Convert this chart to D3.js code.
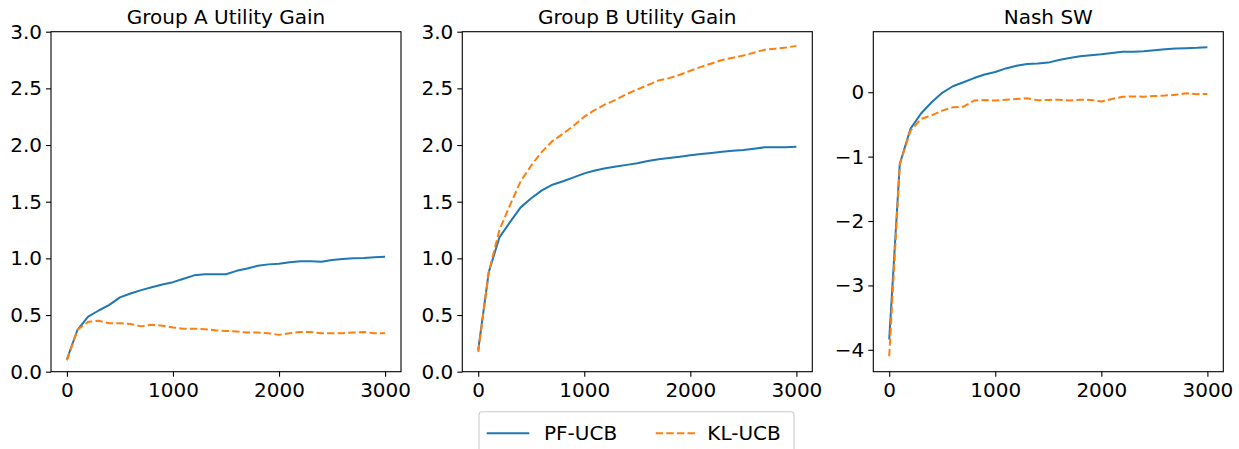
<!DOCTYPE html>
<html>
<head>
<meta charset="utf-8">
<script src="https://cdn.jsdelivr.net/npm/d3@7"></script>
<style>
  body { margin: 0; background: #fff; }
  svg text { font-family: "DejaVu Sans", sans-serif; fill: #000; }
</style>
</head>
<body>
<svg id="svg"></svg>
<script>
// steps (x values)
let steps = [0, 100, 200, 300, 400, 500, 600, 700, 800, 900, 1000, 1100, 1200, 1300, 1400, 1500,
  1600, 1700, 1800, 1900, 2000, 2100, 2200, 2300, 2400, 2500, 2600, 2700, 2800, 2900, 3000]

// Group A utility gain
let groupA_pf = [0.11, 0.37, 0.485, 0.54, 0.59, 0.656, 0.69, 0.72, 0.745, 0.77, 0.79, 0.82, 0.85, 0.86, 0.86, 0.86,
  0.89, 0.91, 0.935, 0.947, 0.953, 0.965, 0.975, 0.975, 0.97, 0.985, 0.994, 1.0, 1.003, 1.009, 1.015]
let groupA_kl = [0.10, 0.37, 0.44, 0.45, 0.427, 0.427, 0.42, 0.40, 0.415, 0.405, 0.39, 0.38, 0.38, 0.375, 0.365, 0.36,
  0.355, 0.345, 0.345, 0.34, 0.325, 0.34, 0.35, 0.35, 0.34, 0.34, 0.34, 0.345, 0.35, 0.34, 0.34]

// Group B utility gain
let groupB_pf = [0.19, 0.88, 1.185, 1.32, 1.45, 1.53, 1.60, 1.65, 1.68, 1.715, 1.75, 1.775, 1.795, 1.81, 1.825, 1.84,
  1.86, 1.875, 1.885, 1.897, 1.91, 1.92, 1.93, 1.94, 1.95, 1.956, 1.967, 1.98, 1.98, 1.98, 1.985]
let groupB_kl = [0.175, 0.88, 1.25, 1.47, 1.68, 1.82, 1.94, 2.035, 2.10, 2.17, 2.25, 2.31, 2.36, 2.40, 2.45, 2.49,
  2.53, 2.57, 2.59, 2.62, 2.655, 2.69, 2.72, 2.75, 2.77, 2.79, 2.815, 2.84, 2.85, 2.86, 2.875]

// Nash social welfare
let nash_pf = [-3.84, -1.11, -0.57, -0.33, -0.155, -0.01, 0.093, 0.155, 0.22, 0.275, 0.315, 0.37, 0.41, 0.44, 0.445, 0.46,
  0.50, 0.53, 0.56, 0.575, 0.59, 0.61, 0.627, 0.63, 0.637, 0.653, 0.668, 0.68, 0.684, 0.69, 0.70]
let nash_kl = [-4.10, -1.12, -0.60, -0.415, -0.36, -0.285, -0.235, -0.225, -0.13, -0.12, -0.13, -0.115, -0.105, -0.095, -0.125, -0.12,
  -0.115, -0.13, -0.115, -0.12, -0.145, -0.105, -0.07, -0.065, -0.07, -0.06, -0.052, -0.04, -0.015, -0.03, -0.026]

let titles = ['Group A Utility Gain', 'Group B Utility Gain', 'Nash SW']
let seriesNames = ['PF-UCB', 'KL-UCB']
let xTicks = [0, 1000, 2000, 3000]
let utilTicks = [0, 0.5, 1.0, 1.5, 2.0, 2.5, 3.0]
let nashTicks = [-4, -3, -2, -1, 0]

let width = 1239
let height = 449
let svg = d3.select('#svg').attr('width', width).attr('height', height)

let blue = '#1f77b4'
let orange = '#ff7f0e'
let fs = 20
let plotTop = 31.7
let plotBottom = 371.7

let panels = [
  { left: 51, right: 401, title: titles[0], pf: groupA_pf, kl: groupA_kl, ydom: [0, 3], ticks: utilTicks, fmt: d3.format('.1f') },
  { left: 462.3, right: 812.3, title: titles[1], pf: groupB_pf, kl: groupB_kl, ydom: [0, 3], ticks: utilTicks, fmt: d3.format('.1f') },
  { left: 873.3, right: 1223.3, title: titles[2], pf: nash_pf, kl: nash_kl, ydom: null, ticks: nashTicks, fmt: d3.format('d') }
]

panels.forEach(p => {
  let g = svg.append('g')

  // matplotlib style 5% padding on x
  let x = d3.scaleLinear().domain([-150, 3150]).range([p.left, p.right])
  let ydom = p.ydom
  if (!ydom) {
    let all = p.pf.concat(p.kl)
    let lo = d3.min(all), hi = d3.max(all)
    let pad = (hi - lo) * 0.05
    ydom = [lo - pad, hi + pad]
  }
  let y = d3.scaleLinear().domain(ydom).range([plotBottom, plotTop])

  let xAxis = d3.axisBottom(x).tickValues(xTicks).tickSize(5).tickPadding(4).tickFormat(d3.format('d'))
  let yAxis = d3.axisLeft(y).tickValues(p.ticks).tickSize(5).tickPadding(4).tickFormat(p.fmt)

  let xg = g.append('g').attr('transform', `translate(0,${plotBottom})`).call(xAxis)
  let yg = g.append('g').attr('transform', `translate(${p.left},0)`).call(yAxis)
  ;[xg, yg].forEach(a => {
    a.select('.domain').remove()
    a.selectAll('.tick line').attr('stroke', '#000').attr('stroke-width', 1.1)
    a.selectAll('.tick text').attr('font-size', fs).attr('font-family', 'DejaVu Sans')
  })
  xg.selectAll('.tick text').attr('dy', '0.82em')

  // lines
  let line = vals => d3.line()
    .x((d, i) => x(steps[i]))
    .y(d => y(d))(vals)

  g.append('path')
    .attr('d', line(p.pf))
    .attr('fill', 'none')
    .attr('stroke', blue)
    .attr('stroke-width', 2)
    .attr('stroke-linejoin', 'round')
    .attr('stroke-linecap', 'butt')

  g.append('path')
    .attr('d', line(p.kl))
    .attr('fill', 'none')
    .attr('stroke', orange)
    .attr('stroke-width', 2)
    .attr('stroke-dasharray', '7.4,3.2')
    .attr('stroke-linejoin', 'round')

  // frame
  g.append('rect')
    .attr('x', p.left).attr('y', plotTop)
    .attr('width', p.right - p.left).attr('height', plotBottom - plotTop)
    .attr('fill', 'none').attr('stroke', '#000').attr('stroke-width', 1.1)

  // title
  g.append('text')
    .attr('x', (p.left + p.right) / 2)
    .attr('y', 24)
    .attr('text-anchor', 'middle')
    .attr('font-size', fs)
    .text(p.title)
})

// legend
let leg = svg.append('g')
leg.append('rect')
  .attr('x', 479).attr('y', 411.7)
  .attr('width', 315).attr('height', 44)
  .attr('rx', 3)
  .attr('fill', '#fff')
  .attr('stroke', '#cccccc')
  .attr('stroke-width', 1.1)

let legItems = [
  { name: seriesNames[0], color: blue, dash: null, x1: 486.7, x2: 529.3, tx: 544 },
  { name: seriesNames[1], color: orange, dash: '7.4,3.2', x1: 655.7, x2: 696, tx: 707.3 }
]
legItems.forEach(it => {
  leg.append('line')
    .attr('x1', it.x1).attr('x2', it.x2)
    .attr('y1', 433.3).attr('y2', 433.3)
    .attr('stroke', it.color).attr('stroke-width', 2)
    .attr('stroke-dasharray', it.dash)
  leg.append('text')
    .attr('x', it.tx).attr('y', 433.3)
    .attr('dy', '0.35em')
    .attr('font-size', fs)
    .text(it.name)
})
</script>
</body>
</html>
